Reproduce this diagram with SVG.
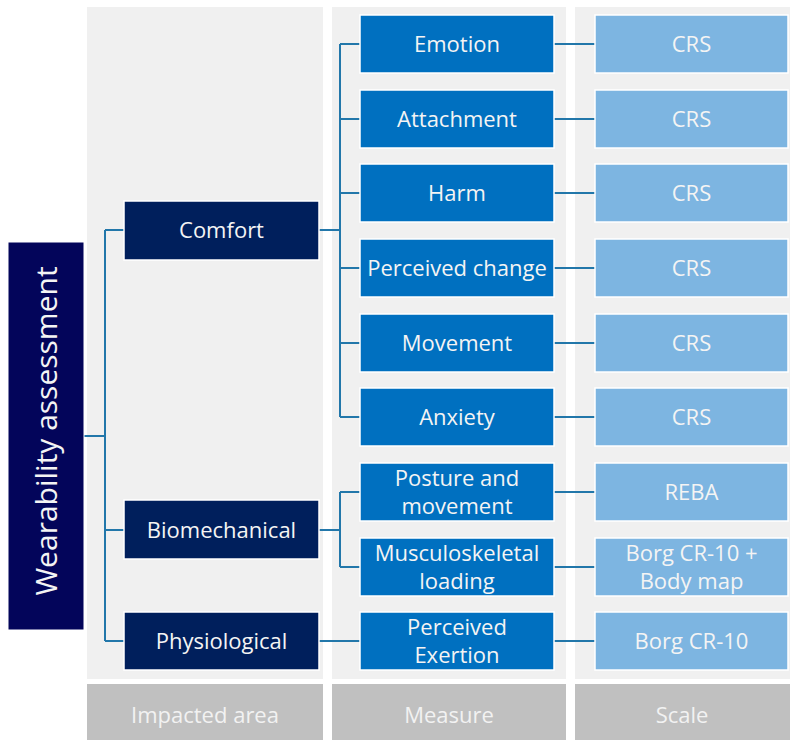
<svg xmlns="http://www.w3.org/2000/svg" width="790" height="740" viewBox="0 0 790 740">
<style>
.panel{fill:#f0f0f0}
.foot{fill:#c0c0c0}
.ft{fill:#f2f2f2;font-family:"Open Sans",sans-serif;font-size:22px;text-anchor:middle}
.root{fill:#03055a;stroke:#ffffff;stroke-width:1}
.area{fill:#001f5c;stroke:#ffffff;stroke-width:1.5}
.meas{fill:#0070c0;stroke:#ffffff;stroke-width:1.5}
.scale{fill:#7db5e1;stroke:#ffffff;stroke-width:1.5}
.t{fill:#f4f4f4;font-family:"Open Sans",sans-serif;font-size:22px;text-anchor:middle}
.conn{fill:none;stroke:#2277aa;stroke-width:2}
</style>
<rect width="790" height="740" fill="#ffffff"/>
<g id="panels">
<rect class="panel" x="87" y="7" width="236" height="672"/>
<rect class="panel" x="332" y="7" width="234" height="672"/>
<rect class="panel" x="575" y="7" width="215" height="672"/>
<rect class="foot" x="87" y="684" width="236" height="56"/>
<rect class="foot" x="332" y="684" width="234" height="56"/>
<rect class="foot" x="575" y="684" width="215" height="56"/>
<text class="ft" x="205" y="723">Impacted area</text>
<text class="ft" x="449" y="723">Measure</text>
<text class="ft" x="682" y="723">Scale</text>
</g>
<g id="connectors">
<path class="conn" d="M84 436H105M105 230V641M105 230H124M105 530H124M105 641H124"/>
<path class="conn" d="M319 230H340M340 44V417M340 44H360M340 119H360M340 193H360M340 268H360M340 343H360M340 417H360"/>
<path class="conn" d="M319 530H340M340 492V567M340 492H360M340 567H360"/>
<path class="conn" d="M319 641H360"/>
<path class="conn" d="M554 44H595M554 119H595M554 193H595M554 268H595M554 343H595M554 417H595M554 492H595M554 567H595M554 641H595"/>
</g>
<g id="root">
<rect class="root" x="8" y="242" width="76" height="388"/>
<text class="t" style="font-size:30px" transform="translate(57 431) rotate(-90)">Wearability assessment</text>
</g>
<g id="comfort"><rect class="area" x="124" y="201" width="195" height="59"/><text class="t" x="221.5" y="238">Comfort</text></g>
<g id="biomechanical"><rect class="area" x="124" y="500" width="195" height="59"/><text class="t" x="221.5" y="538">Biomechanical</text></g>
<g id="physiological"><rect class="area" x="124" y="612" width="195" height="58"/><text class="t" x="221.5" y="649">Physiological</text></g>
<g id="emotion"><rect class="meas" x="360" y="15" width="194" height="58"/><text class="t" x="457" y="52">Emotion</text></g>
<g id="attachment"><rect class="meas" x="360" y="90" width="194" height="58"/><text class="t" x="457" y="127">Attachment</text></g>
<g id="harm"><rect class="meas" x="360" y="164" width="194" height="58"/><text class="t" x="457" y="201">Harm</text></g>
<g id="perceived-change"><rect class="meas" x="360" y="239" width="194" height="58"/><text class="t" x="457" y="276">Perceived change</text></g>
<g id="movement"><rect class="meas" x="360" y="314" width="194" height="58"/><text class="t" x="457" y="351">Movement</text></g>
<g id="anxiety"><rect class="meas" x="360" y="388" width="194" height="58"/><text class="t" x="457" y="425">Anxiety</text></g>
<g id="posture"><rect class="meas" x="360" y="463" width="194" height="58"/><text class="t" x="457" y="486">Posture and</text><text class="t" x="457" y="514">movement</text></g>
<g id="musculoskeletal"><rect class="meas" x="360" y="538" width="194" height="58"/><text class="t" x="457" y="561">Musculoskeletal</text><text class="t" x="457" y="589">loading</text></g>
<g id="exertion"><rect class="meas" x="360" y="612" width="194" height="58"/><text class="t" x="457" y="635">Perceived</text><text class="t" x="457" y="663">Exertion</text></g>
<g id="scale-emotion"><rect class="scale" x="595" y="15" width="193" height="58"/><text class="t" x="691.5" y="52">CRS</text></g>
<g id="scale-attachment"><rect class="scale" x="595" y="90" width="193" height="58"/><text class="t" x="691.5" y="127">CRS</text></g>
<g id="scale-harm"><rect class="scale" x="595" y="164" width="193" height="58"/><text class="t" x="691.5" y="201">CRS</text></g>
<g id="scale-change"><rect class="scale" x="595" y="239" width="193" height="58"/><text class="t" x="691.5" y="276">CRS</text></g>
<g id="scale-movement"><rect class="scale" x="595" y="314" width="193" height="58"/><text class="t" x="691.5" y="351">CRS</text></g>
<g id="scale-anxiety"><rect class="scale" x="595" y="388" width="193" height="58"/><text class="t" x="691.5" y="425">CRS</text></g>
<g id="scale-reba"><rect class="scale" x="595" y="463" width="193" height="58"/><text class="t" x="691.5" y="500">REBA</text></g>
<g id="scale-borg-map"><rect class="scale" x="595" y="538" width="193" height="58"/><text class="t" x="691.5" y="561">Borg CR-10 +</text><text class="t" x="691.5" y="589">Body map</text></g>
<g id="scale-borg"><rect class="scale" x="595" y="612" width="193" height="58"/><text class="t" x="691.5" y="649">Borg CR-10</text></g>
</svg>
